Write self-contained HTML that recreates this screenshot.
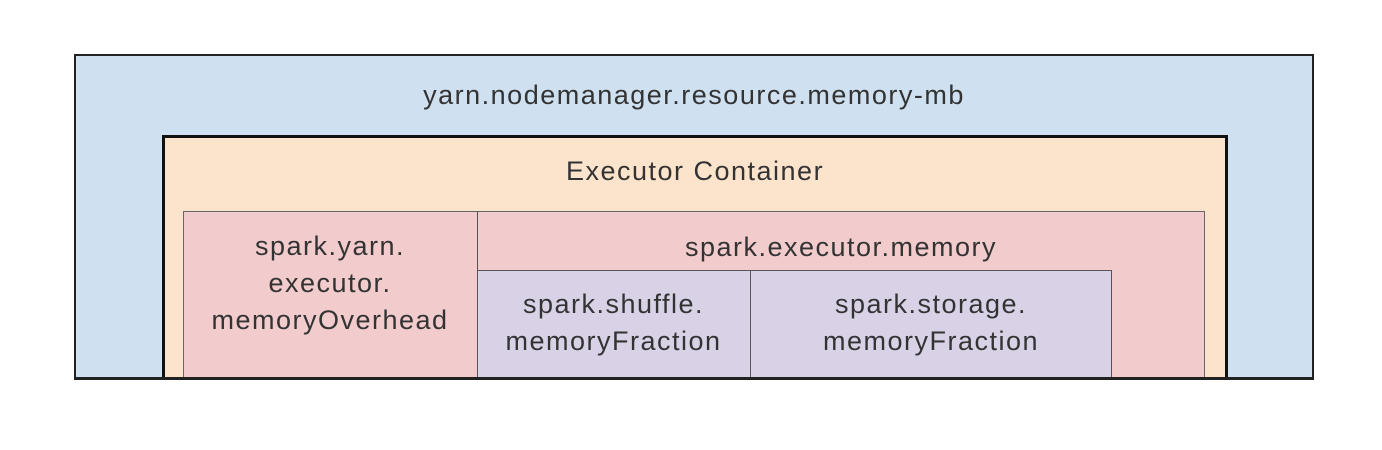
<!DOCTYPE html>
<html><head><style>
body{margin:0;width:1382px;height:450px;background:#fff;position:relative;overflow:hidden;font-family:"Liberation Sans",Arial,sans-serif;color:#333}
div{position:absolute;box-sizing:border-box}
.t{font-size:27px;letter-spacing:1.5px;text-align:center;line-height:37px;white-space:nowrap}
</style></head><body>
<div style="left:74px;top:54px;width:1240px;height:326px;background:#cfe0f0;border:2px solid #222"></div>
<div style="left:162px;top:135px;width:1066px;height:245px;background:#fce4cc;border:3px solid #111;border-bottom:none"></div>
<div style="left:183px;top:211px;width:1022px;height:168px;background:#f2cbcc;border:1px solid #666;border-bottom:none"></div>
<div style="left:477px;top:211px;width:1px;height:168px;background:#555"></div>
<div style="left:477px;top:270px;width:635px;height:109px;background:#d9d2e7;border:1px solid #555;border-bottom:none"></div>
<div style="left:750px;top:270px;width:1px;height:109px;background:#555"></div>
<div style="left:74px;top:377px;width:1240px;height:3px;background:#222"></div>
<div class="t" style="left:74px;top:77px;width:1240px">yarn.nodemanager.resource.memory-mb</div>
<div class="t" style="left:162px;top:153px;width:1066px">Executor Container</div>
<div class="t" style="left:477px;top:229px;width:728px">spark.executor.memory</div>
<div class="t" style="left:183px;top:228px;width:294px">spark.yarn.<br>executor.<br>memoryOverhead</div>
<div class="t" style="left:477px;top:286px;width:273px">spark.shuffle.<br>memoryFraction</div>
<div class="t" style="left:750px;top:286px;width:362px">spark.storage.<br>memoryFraction</div>
</body></html>
